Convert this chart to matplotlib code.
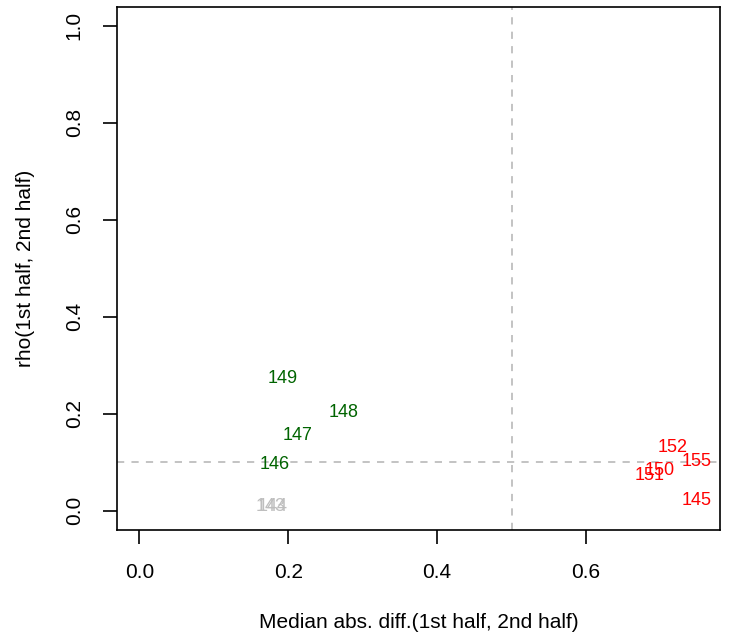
import matplotlib
matplotlib.use("Agg")
import matplotlib.pyplot as plt

plt.rcParams['font.family'] = ['Liberation Sans', 'DejaVu Sans']

# label, median abs diff, rho, colour group
labels = ["149", "148", "147", "146", "143", "144", "152", "155", "150", "151", "145"]
med_diff = [0.193, 0.275, 0.212, 0.182, 0.176, 0.179, 0.717, 0.749, 0.699, 0.686, 0.749]
rho = [0.276, 0.206, 0.158, 0.100, 0.012, 0.012, 0.135, 0.106, 0.086, 0.076, 0.024]
groups = ["mid", "mid", "mid", "mid", "low", "low", "high", "high", "high", "high", "high"]
group_colors = {"mid": "#006400", "low": "#BEBEBE", "high": "#FF0000"}

fig = plt.figure(figsize=(7.3, 6.4), dpi=100)
ax = fig.add_axes([117 / 730, 110 / 640, 603 / 730, 523.3 / 640])

ax.axvline(0.5, color="#BEBEBE", ls=(0, (4, 4)), lw=1.3)
ax.axhline(0.1, color="#BEBEBE", ls=(0, (4, 4)), lw=1.3)

for lab, x, y, g in zip(labels, med_diff, rho, groups):
    ax.text(x, y, lab, color=group_colors[g], fontsize=13, ha="center", va="center_baseline")

ax.set_xlim(-0.030, 0.780)
ax.set_ylim(-0.04, 1.039)
ax.set_xticks([0.0, 0.2, 0.4, 0.6])
ax.set_xticklabels(["0.0", "0.2", "0.4", "0.6"])
ax.set_yticks([0.0, 0.2, 0.4, 0.6, 0.8, 1.0])
ax.set_yticklabels(["0.0", "0.2", "0.4", "0.6", "0.8", "1.0"], rotation=90, va="center")
ax.tick_params(direction="out", length=10, width=1.2, labelsize=15, pad=14)
for s in ax.spines.values():
    s.set_linewidth(1.2)

fig.text(418.5 / 730, 1 - 623 / 640, "Median abs. diff.(1st half, 2nd half)",
         fontsize=15, ha="center", va="center")
fig.text(26 / 730, 1 - 268 / 640, "rho(1st half, 2nd half)",
         fontsize=15, ha="center", va="center", rotation=90)

fig.savefig("out.png", dpi=100)
